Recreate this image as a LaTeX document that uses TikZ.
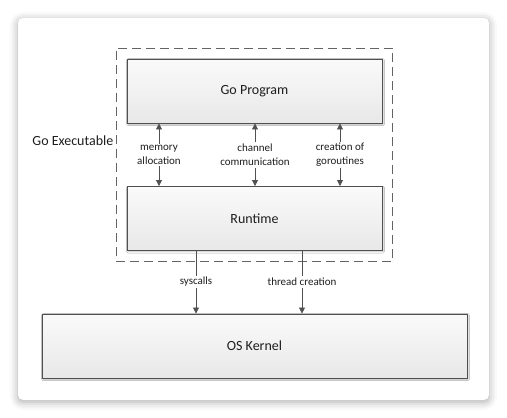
\documentclass[tikz,border=0pt]{standalone}
\usepackage{fontspec}
\setmainfont{Carlito}
\usetikzlibrary{arrows.meta,fit,shadows.blur}
\definecolor{GoBorder}{RGB}{80, 80, 80}
\definecolor{GoText}{RGB}{30, 30, 30}
\definecolor{GoTop}{RGB}{250, 250, 250}
\definecolor{GoBottom}{RGB}{232, 232, 232}
\definecolor{GoDash}{RGB}{100, 100, 100}

\tikzset{
  layerbox/.style={draw=GoBorder, line width=0.9pt, top color=GoTop, bottom color=GoBottom,
    minimum height=64pt, text=GoText, font=\fontsize{14}{16}\selectfont,
    blur shadow={shadow xshift=1pt, shadow yshift=-1pt, shadow blur radius=1.5pt, shadow opacity=25}},
  flowlabel/.style={align=center, inner sep=1.5pt, text=GoText, font=\fontsize{11}{14}\selectfont},
  flowarrow/.style={draw=GoBorder, line width=0.8pt, -{Triangle[width=6pt,length=6pt]}},
  flowline/.style={draw=GoBorder, line width=0.8pt}
}

\begin{document}
\begin{tikzpicture}[x=1pt, y=-1pt]
    \useasboundingbox (0,0) rectangle (507,418);
    % card
    \node[fill=white, rounded corners=5pt, minimum width=471pt, minimum height=382pt, inner sep=0pt,
      blur shadow={shadow xshift=0pt, shadow yshift=-2pt, shadow blur radius=8pt, shadow opacity=35}]
      (card) at (253.5,209) {};

    \node[layerbox, minimum width=255pt] (prog) at (254.5,91) {Go Program};
    \node[layerbox, minimum width=255pt] (runtime) at (254.5,218.5) {Runtime};
    \node[layerbox, minimum width=425pt] (kernel) at (254.5,346) {OS Kernel};

    \node[draw=GoDash, line width=1pt, dash pattern=on 9pt off 5pt, fit=(prog)(runtime), inner sep=10.5pt] (exec) {};
    \node[anchor=east, inner sep=2pt, text=GoText, font=\fontsize{14}{16}\selectfont] (execlbl)
      at ([yshift=14pt]exec.west) {Go Executable};

    % runtime services
    \node[flowlabel] (memlbl) at (159,155) {memory\\allocation};
    \node[flowlabel] (chanlbl) at (255,155) {channel\\communication};
    \node[flowlabel] (golbl) at (340,155) {creation of\\goroutines};
    \foreach \lbl in {memlbl, chanlbl, golbl} {
      \draw[flowarrow] (\lbl.north) -- (\lbl.north |- prog.south);
      \draw[flowarrow] (\lbl.south) -- (\lbl.south |- runtime.north);
    }

    % kernel interface
    \node[flowlabel] (syslbl) at (196,282) {syscalls};
    \node[flowlabel] (threadlbl) at (302,282) {thread creation};
    \foreach \lbl in {syslbl, threadlbl} {
      \draw[flowline] (\lbl.north |- runtime.south) -- (\lbl.north);
      \draw[flowarrow] (\lbl.south) -- (\lbl.south |- kernel.north);
    }
  \end{tikzpicture}
\end{document}
